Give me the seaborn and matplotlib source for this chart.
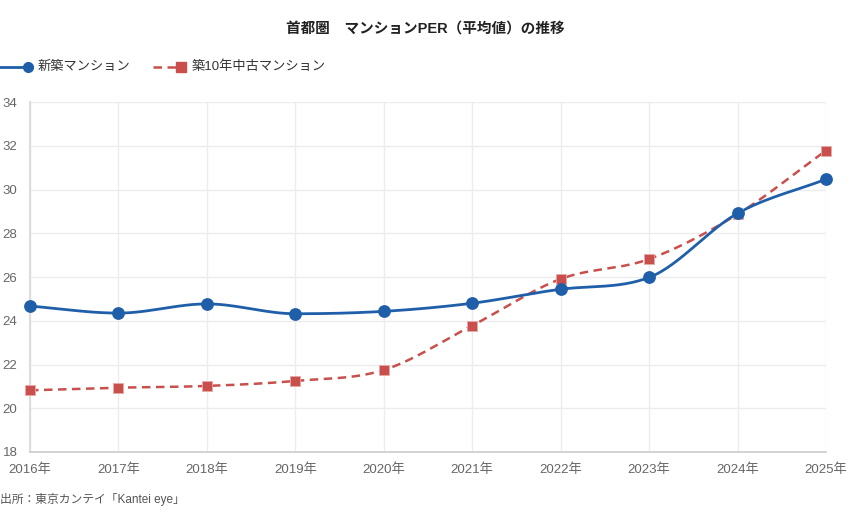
import numpy as np
import pandas as pd
import matplotlib
matplotlib.use("Agg")
import matplotlib.pyplot as plt
from matplotlib.lines import Line2D
import seaborn as sns

# data
years = ["2016年", "2017年", "2018年", "2019年", "2020年",
         "2021年", "2022年", "2023年", "2024年", "2025年"]
new_per = [24.67, 24.35, 24.77, 24.32, 24.43, 24.80, 25.44, 25.98, 28.91, 30.47]
used_per = [20.82, 20.94, 21.02, 21.25, 21.75, 23.78, 25.91, 26.82, 28.87, 31.78]
series_names = ["新築マンション", "築10年中古マンション"]
y_ticks = [18, 20, 22, 24, 26, 28, 30, 32, 34]

BLUE = "#1f5fa9"
RED = "#c84f4c"
GRID = "#ececec"
TICK = "#666666"


def monotone_curve(x, y, n=30):
    """Monotone cubic (Fritsch-Carlson) path through the points, for drawing only."""
    x = np.asarray(x, float)
    y = np.asarray(y, float)
    h = np.diff(x)
    d = np.diff(y) / h
    m = np.zeros_like(y)
    m[0], m[-1] = d[0], d[-1]
    for i in range(1, len(y) - 1):
        if d[i - 1] * d[i] <= 0:
            m[i] = 0
        else:
            m[i] = (d[i - 1] + d[i]) / 2
    for i in range(len(d)):
        if d[i] == 0:
            m[i] = m[i + 1] = 0
            continue
        a, b = m[i] / d[i], m[i + 1] / d[i]
        s = a * a + b * b
        if s > 9:
            t = 3 / np.sqrt(s)
            m[i], m[i + 1] = t * a * d[i], t * b * d[i]
    xs, ys = [], []
    for i in range(len(h)):
        t = np.linspace(0, 1, n, endpoint=(i == len(h) - 1))
        h00 = 2 * t**3 - 3 * t**2 + 1
        h10 = t**3 - 2 * t**2 + t
        h01 = -2 * t**3 + 3 * t**2
        h11 = t**3 - t**2
        xs.append(x[i] + t * h[i])
        ys.append(h00 * y[i] + h10 * h[i] * m[i] + h01 * y[i + 1] + h11 * h[i] * m[i + 1])
    return np.concatenate(xs), np.concatenate(ys)


sns.set_theme(style="white")
plt.rcParams["font.family"] = ["Liberation Sans", "Noto Sans CJK JP", "DejaVu Sans"]

df = pd.DataFrame({"pos": range(len(years)), "year": years,
                   "new": new_per, "used": used_per})

fig = plt.figure(figsize=(8.5, 5.3), dpi=100)
ax = fig.add_axes([30 / 850, 1 - 452 / 530, 796 / 850, 350 / 530])

# smooth lines
cx, cy = monotone_curve(df["pos"], df["used"])
ax.plot(cx, cy, color=RED, lw=1.8, ls=(0, (3.4, 2.2)), zorder=3)
cx, cy = monotone_curve(df["pos"], df["new"])
ax.plot(cx, cy, color=BLUE, lw=2.0, zorder=4)

# markers
sns.scatterplot(data=df, x="pos", y="used", ax=ax, marker="s", s=55,
                color=RED, edgecolor="#e8a9a7", linewidth=0.6, zorder=5, clip_on=False)
sns.scatterplot(data=df, x="pos", y="new", ax=ax, marker="o", s=85,
                color=BLUE, edgecolor=BLUE, linewidth=0, zorder=6, clip_on=False)

ax.set_xlim(0, len(years) - 1)
ax.set_ylim(18, 34)
ax.set_xticks(df["pos"])
ax.set_xticklabels(years)
ax.set_yticks(y_ticks)
ax.set_xlabel("")
ax.set_ylabel("")
ax.grid(True, color=GRID, lw=1.0)
ax.set_axisbelow(True)
for side in ["top", "right"]:
    ax.spines[side].set_visible(False)
ax.spines["left"].set_color("#dddddd")
ax.spines["left"].set_linewidth(1.5)
ax.spines["bottom"].set_color("#cccccc")
ax.spines["bottom"].set_linewidth(1.2)
ax.tick_params(axis="both", colors=TICK, labelsize=9.5, length=0)
ax.tick_params(axis="x", pad=8)
ax.tick_params(axis="y", pad=9)

fig.text(0.5, 1 - 30 / 530, "首都圏　マンションPER（平均値）の推移",
         ha="center", va="center", fontsize=10.5, fontweight="bold", color="#222222")

# legend drawn by hand so the marker sits at the end of the line
ly = 1 - 67 / 530
fig.add_artist(Line2D([0, 28 / 850], [ly, ly], color=BLUE, lw=2, transform=fig.transFigure))
fig.add_artist(Line2D([28 / 850], [ly], color=BLUE, marker="o", ms=7, transform=fig.transFigure))
fig.text(38 / 850, ly, series_names[0], ha="left", va="center", fontsize=9.5, color="#333333")
fig.add_artist(Line2D([153 / 850, 180 / 850], [ly, ly], color=RED, lw=1.8,
                      ls=(0, (3.4, 2.2)), transform=fig.transFigure))
fig.add_artist(Line2D([181 / 850], [ly], color=RED, marker="s", ms=6.5, transform=fig.transFigure))
fig.text(192 / 850, ly, series_names[1], ha="left", va="center", fontsize=9.5, color="#333333")

fig.text(0.0, 1 - 499 / 530, "出所：東京カンテイ「Kantei eye」", ha="left", va="center",
         fontsize=8.5, color="#555555")

fig.savefig("out.png", dpi=100)
